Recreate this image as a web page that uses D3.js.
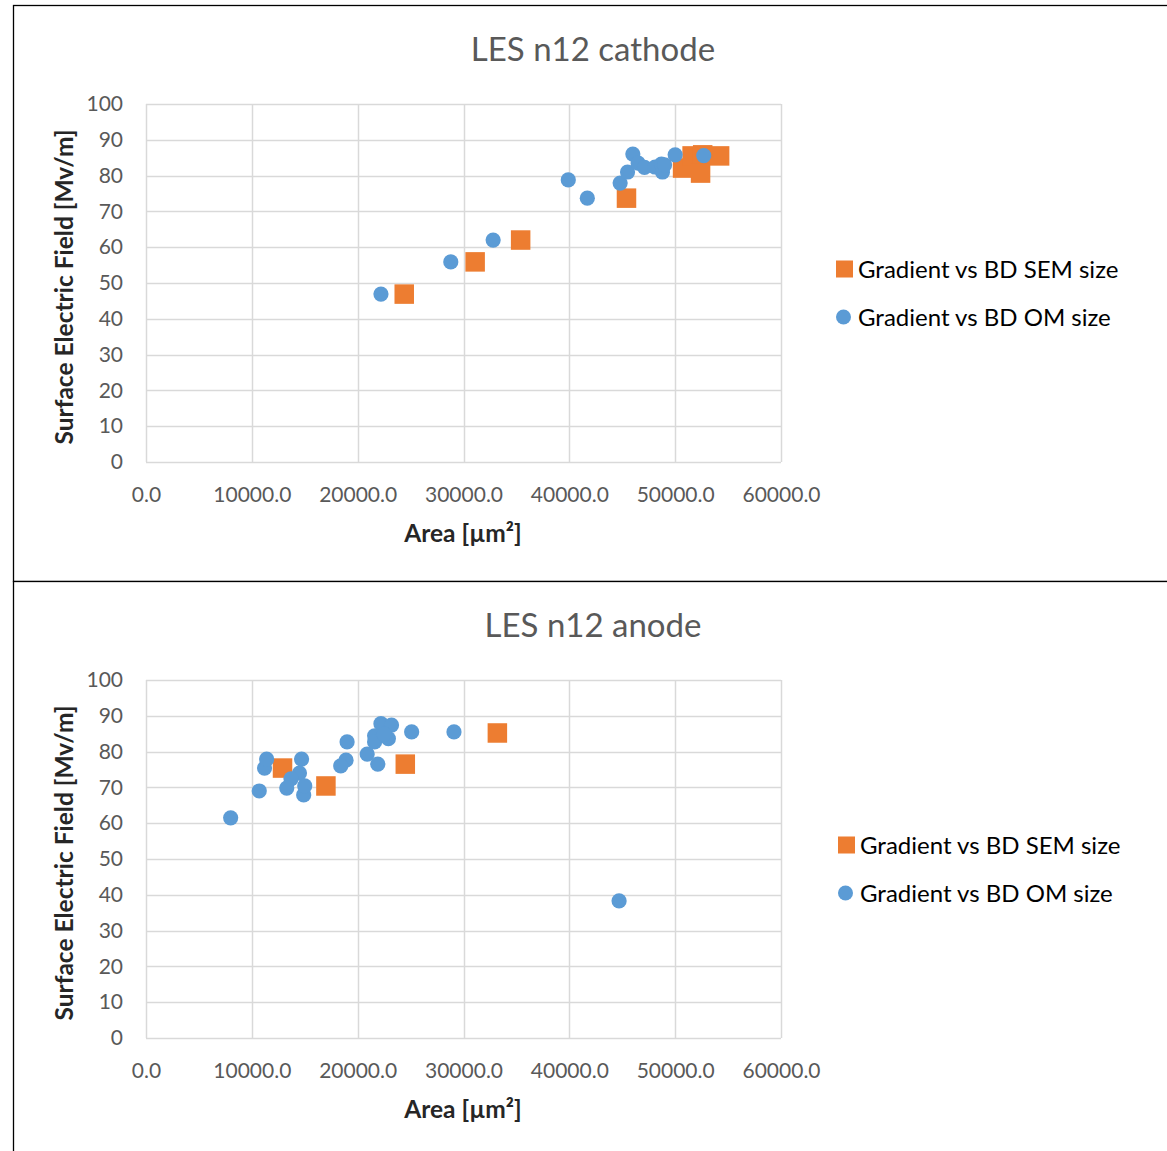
<!DOCTYPE html>
<html>
<head>
<meta charset="utf-8">
<script src="https://cdn.jsdelivr.net/npm/d3@7"></script>
<style>
  html, body { margin: 0; padding: 0; background: #fff; }
  svg { display: block; }
</style>
</head>
<body>
<svg id="chart" width="1167" height="1151"></svg>
<script>
// Axis ticks shared by both panels
const xTicks = [0, 10000, 20000, 30000, 40000, 50000, 60000];
const yTicks = [0, 10, 20, 30, 40, 50, 60, 70, 80, 90, 100];

const seriesNames = ["Gradient vs BD SEM size", "Gradient vs BD OM size"];

// Cathode: [area µm², field MV/m]
const cathodeSEM = [
  [24400, 46.9], [31100, 55.9], [35400, 62.0], [45400, 73.7],
  [50700, 82.1], [51600, 85.5], [52600, 85.8], [52400, 80.7], [54200, 85.5]
];
const cathodeOM = [
  [22200, 46.9], [28800, 55.9], [32800, 62.0], [39900, 78.8], [41700, 73.7],
  [44800, 77.9], [45500, 81.0], [46000, 86.0], [46500, 83.5], [47100, 82.3],
  [48100, 82.4], [48700, 83.2], [48800, 81.0], [49000, 83.0], [50000, 85.8],
  [52700, 85.6]
];

// Anode
const anodeSEM = [
  [12900, 75.4], [17000, 70.4], [24500, 76.5], [33200, 85.2]
];
const anodeOM = [
  [8000, 61.5], [10700, 69.0], [11200, 75.4], [11400, 77.9], [14700, 77.9],
  [14500, 74.0], [13700, 72.4], [13300, 69.8], [14900, 67.9], [15000, 70.4],
  [19000, 82.7], [18900, 77.6], [18400, 76.0], [20900, 79.3], [21900, 76.5],
  [22200, 87.8], [23200, 87.4], [21600, 84.4], [21600, 82.7], [22900, 83.6],
  [22500, 84.9], [25100, 85.5], [29100, 85.5], [44700, 38.3]
];

const panels = [
  { title: "LES n12 cathode", sem: cathodeSEM, om: cathodeOM, top: 5, height: 576, legendX: 836, legendY: 269 },
  { title: "LES n12 anode", sem: anodeSEM, om: anodeOM, top: 581, height: 600, legendX: 838, legendY: 845 }
];

const svg = d3.select("#chart");
const FONT = "Lato, 'Open Sans', sans-serif";
const ORANGE = "#ED7D31", BLUE = "#5B9BD5", GRID = "#d9d9d9", TXT = "#595959";

panels.forEach(p => {
  const g = svg.append("g");

  // chart frame
  g.append("rect")
    .attr("x", 13.5).attr("y", p.top + 0.5)
    .attr("width", 1170).attr("height", p.height)
    .attr("fill", "#fff").attr("stroke", "#000").attr("stroke-width", 1.3);

  const plotTop = p.top + 99;
  const x = d3.scaleLinear().domain([0, 60000]).range([146, 781]);
  const y = d3.scaleLinear().domain([0, 100]).range([plotTop + 358, plotTop]);

  // gridlines
  g.append("g").selectAll("line").data(yTicks).join("line")
    .attr("x1", 146).attr("x2", 781)
    .attr("y1", d => Math.round(y(d)) + 0.5).attr("y2", d => Math.round(y(d)) + 0.5)
    .attr("stroke", GRID).attr("stroke-width", 1.5);
  g.append("g").selectAll("line").data(xTicks).join("line")
    .attr("y1", y(0)).attr("y2", y(100))
    .attr("x1", d => Math.round(x(d)) + 0.5).attr("x2", d => Math.round(x(d)) + 0.5)
    .attr("stroke", GRID).attr("stroke-width", 1.5);

  // tick labels via d3 axes with hidden lines
  const yAxis = g.append("g").attr("transform", "translate(146,0)")
    .call(d3.axisLeft(y).tickValues(yTicks).tickSize(0).tickPadding(23).tickFormat(d3.format("d")));
  const xAxis = g.append("g").attr("transform", `translate(0,${y(0)})`)
    .call(d3.axisBottom(x).tickValues(xTicks).tickSize(0).tickPadding(25).tickFormat(d3.format(".1f")));
  [yAxis, xAxis].forEach(a => {
    a.select(".domain").remove();
    a.selectAll("text").attr("font-family", FONT).attr("font-size", 21).attr("fill", TXT);
  });

  // title
  g.append("text").attr("x", 593).attr("y", p.top + 56)
    .attr("text-anchor", "middle").attr("font-family", FONT)
    .attr("font-size", 33).attr("fill", TXT).text(p.title);

  // axis titles
  g.append("text").attr("x", 463).attr("y", y(0) + 80)
    .attr("text-anchor", "middle").attr("font-family", FONT).attr("font-weight", "bold")
    .attr("font-size", 24.5).attr("fill", "#262626").text("Area [µm²]");
  g.append("text")
    .attr("transform", `translate(73,${(y(0) + y(100)) / 2 + 4}) rotate(-90)`)
    .attr("text-anchor", "middle").attr("font-family", FONT).attr("font-weight", "bold")
    .attr("font-size", 24.5).attr("fill", "#262626").text("Surface Electric Field [Mv/m]");

  // marks: SEM squares below, OM circles on top
  const s = 19.5;
  g.append("g").selectAll("rect").data(p.sem).join("rect")
    .attr("x", d => x(d[0]) - s / 2).attr("y", d => y(d[1]) - s / 2)
    .attr("width", s).attr("height", s).attr("fill", ORANGE);
  g.append("g").selectAll("circle").data(p.om).join("circle")
    .attr("cx", d => x(d[0])).attr("cy", d => y(d[1])).attr("r", 7.6)
    .attr("fill", BLUE);

  // legend
  const lg = g.append("g").attr("transform", `translate(${p.legendX},${p.legendY})`);
  lg.append("rect").attr("x", 0).attr("y", -8.5).attr("width", 17).attr("height", 17).attr("fill", ORANGE);
  lg.append("circle").attr("cx", 7.5).attr("cy", 48).attr("r", 7.5).attr("fill", BLUE);
  lg.selectAll("text").data(seriesNames).join("text")
    .attr("x", 22).attr("y", (d, i) => i * 48 + 8.5)
    .attr("font-family", FONT).attr("font-size", 24).attr("fill", "#000")
    .text(d => d);
});
</script>
</body>
</html>
